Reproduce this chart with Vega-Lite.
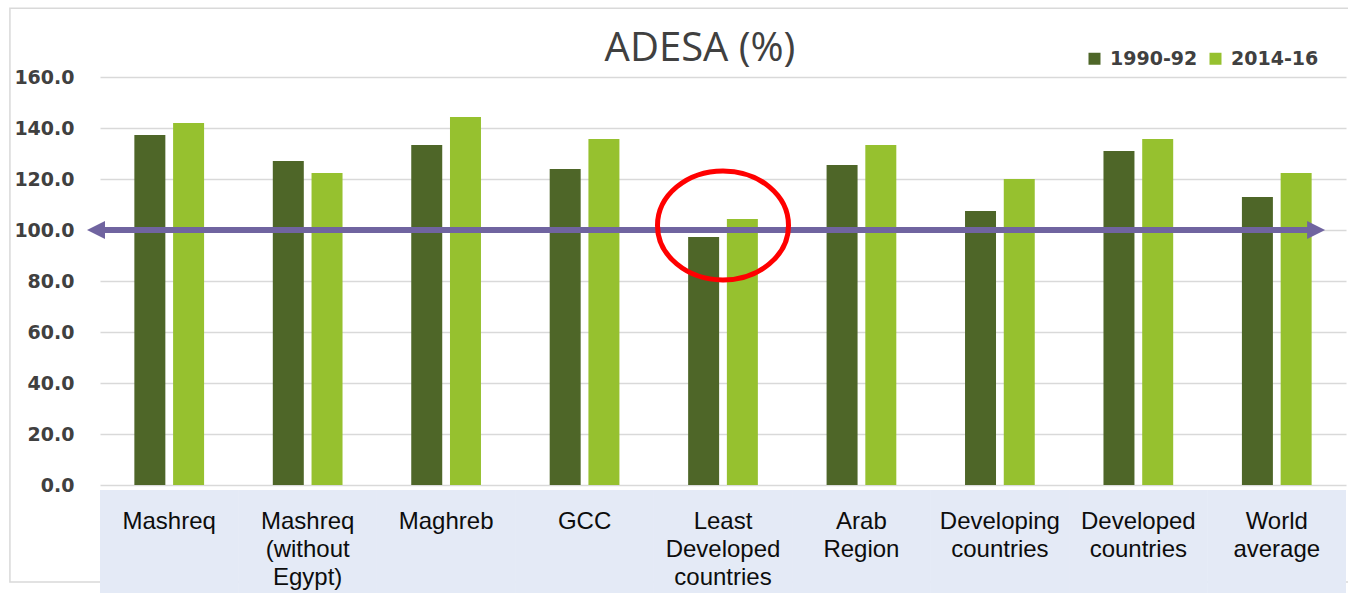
{
  "$schema": "https://vega.github.io/schema/vega-lite/v6.json",
  "width": 1246,
  "height": 408,
  "autosize": {"type": "none"},
  "padding": {"left": 100, "top": 77, "right": 2, "bottom": 114},
  "background": "white",
  "title": {"text": "ADESA (%)", "font": "Open Sans", "fontSize": 40, "fontWeight": "normal", "color": "#404040", "anchor": "middle", "frame": "group", "baseline": "alphabetic", "offset": -94, "dx": -23},
  "config": {
    "view": {"stroke": null},
    "axisY": {"grid": true, "gridColor": "#D9D9D9", "gridWidth": 1.5, "domain": false, "ticks": false, "labelFont": "DejaVu Sans", "labelFontWeight": "bold", "labelFontSize": 19, "labelColor": "#404040", "labelPadding": 26, "labelBaseline": "middle"}
  },
  "layer": [
    {
      "data": {"values": [{}]},
      "mark": {"type": "rect", "fill": null, "stroke": "#D9D9D9", "strokeWidth": 1.5},
      "encoding": {
        "x": {"datum": -0.0723, "type": "quantitative", "scale": {"domain": [0, 1], "nice": false, "zero": false}, "axis": null},
        "x2": {"datum": 1.01},
        "y": {"datum": 187.0, "type": "quantitative", "scale": {"domain": [0, 160], "nice": false}, "title": null},
        "y2": {"datum": -38.0}
      }
    },
    {
      "data": {"values": [
        {"region": "Mashreq", "period": "1990-92", "value": 137.3},
        {"region": "Mashreq", "period": "2014-16", "value": 142.0},
        {"region": "Mashreq (without Egypt)", "period": "1990-92", "value": 127.1},
        {"region": "Mashreq (without Egypt)", "period": "2014-16", "value": 122.4},
        {"region": "Maghreb", "period": "1990-92", "value": 133.3},
        {"region": "Maghreb", "period": "2014-16", "value": 144.3},
        {"region": "GCC", "period": "1990-92", "value": 123.9},
        {"region": "GCC", "period": "2014-16", "value": 135.7},
        {"region": "Least Developed countries", "period": "1990-92", "value": 97.3},
        {"region": "Least Developed countries", "period": "2014-16", "value": 104.3},
        {"region": "Arab Region", "period": "1990-92", "value": 125.5},
        {"region": "Arab Region", "period": "2014-16", "value": 133.3},
        {"region": "Developing countries", "period": "1990-92", "value": 107.5},
        {"region": "Developing countries", "period": "2014-16", "value": 120.0},
        {"region": "Developed countries", "period": "1990-92", "value": 131.0},
        {"region": "Developed countries", "period": "2014-16", "value": 135.7},
        {"region": "World average", "period": "1990-92", "value": 112.9},
        {"region": "World average", "period": "2014-16", "value": 122.4}
      ]},
      "encoding": {
        "x": {
          "field": "region", "type": "nominal", "sort": null,
          "scale": {"domain": ["Mashreq", "Mashreq (without Egypt)", "Maghreb", "GCC", "Least Developed countries", "Arab Region", "Developing countries", "Developed countries", "World average"], "paddingInner": 0, "paddingOuter": 0},
          "axis": {"title": null, "domain": false, "ticks": false, "labelAngle": 0, "labelFont": "Liberation Sans", "labelFontSize": 24, "labelColor": "#0D0D0D", "labelBaseline": "top", "labelPadding": 24, "labelLineHeight": 28, "labelLimit": 0, "labelOverlap": false, "labelExpr": "split(datum.value, ' ')", "zindex": 1}
        }
      },
      "layer": [
        {
          "mark": {"type": "rect", "color": "#E4EAF6"},
          "encoding": {
            "y": {"datum": -2.0, "type": "quantitative", "scale": {"domain": [0, 160], "nice": false}, "title": null},
            "y2": {"datum": -42.4}
          }
        },
        {
          "mark": {"type": "bar"},
          "encoding": {
            "xOffset": {"field": "period", "type": "nominal", "scale": {"paddingInner": 0.2, "paddingOuter": 0.887}},
            "y": {"field": "value", "type": "quantitative", "scale": {"domain": [0, 160], "nice": false}, "title": null, "axis": {"values": [0, 20, 40, 60, 80, 100, 120, 140, 160], "format": ".1f"}},
            "color": {
              "field": "period", "type": "nominal",
              "scale": {"domain": ["1990-92", "2014-16"], "range": ["#4E6628", "#96C12F"]},
              "legend": {"orient": "none", "legendX": 985, "legendY": -28, "direction": "horizontal", "title": null, "symbolType": "square", "symbolSize": 144, "symbolStrokeWidth": 0, "labelFont": "DejaVu Sans", "labelFontWeight": "bold", "labelFontSize": 19, "labelColor": "#404040", "columnPadding": 8, "labelOffset": 6, "padding": 0}
            }
          }
        }
      ]
    },
    {
      "data": {"values": [{}]},
      "encoding": {
        "x": {"datum": -0.0032, "type": "quantitative", "scale": {"domain": [0, 1], "nice": false, "zero": false}, "axis": null},
        "y": {"datum": 100, "type": "quantitative", "scale": {"domain": [0, 160], "nice": false}, "title": null}
      },
      "layer": [
        {
          "mark": {"type": "rule", "color": "#7064A0", "strokeWidth": 6},
          "encoding": {"x2": {"datum": 0.976}}
        },
        {
          "mark": {"type": "point", "shape": "M -1,0 L 1,-1 L 1,1 Z", "filled": true, "color": "#7064A0", "opacity": 1, "size": 324}
        },
        {
          "mark": {"type": "point", "shape": "M 1,0 L -1,-1 L -1,1 Z", "filled": true, "color": "#7064A0", "opacity": 1, "size": 324},
          "encoding": {"x": {"datum": 0.976, "type": "quantitative", "scale": {"domain": [0, 1], "nice": false, "zero": false}, "axis": null}}
        }
      ]
    },
    {
      "data": {"values": [{}]},
      "mark": {"type": "point", "shape": "M 1,0 C 1,0.4595 0.5523,0.832 0,0.832 C -0.5523,0.832 -1,0.4595 -1,0 C -1,-0.4595 -0.5523,-0.832 0,-0.832 C 0.5523,-0.832 1,-0.4595 1,0 Z", "filled": false, "fill": null, "stroke": "#FF0000", "strokeWidth": 5, "opacity": 1, "size": 17161},
      "encoding": {
        "x": {"datum": "Least Developed countries", "type": "nominal", "scale": {"domain": ["Mashreq", "Mashreq (without Egypt)", "Maghreb", "GCC", "Least Developed countries", "Arab Region", "Developing countries", "Developed countries", "World average"], "paddingInner": 0, "paddingOuter": 0}, "axis": null},
        "y": {"datum": 101.8, "type": "quantitative", "scale": {"domain": [0, 160], "nice": false}, "title": null}
      }
    }
  ],
  "resolve": {"scale": {"x": "independent"}}
}
